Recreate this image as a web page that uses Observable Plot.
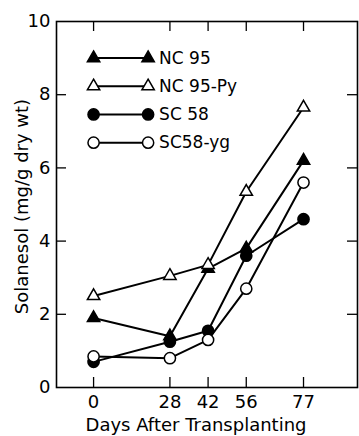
<!DOCTYPE html>
<html>
<head>
<meta charset="utf-8">
<script src="https://cdn.jsdelivr.net/npm/d3@7"></script>
<script src="https://cdn.jsdelivr.net/npm/@observablehq/plot@0.6"></script>
<style>
  html, body { margin: 0; padding: 0; background: #fff; }
</style>
</head>
<body>
<div id="chart"></div>
<script>
// ---- data ----
const days = [0, 28, 42, 56, 77];
const nc95 = [1.9, 1.4, 3.25, 3.8, 6.2];
const nc95py = [2.5, 3.05, 3.35, 5.35, 7.65];
const sc58 = [0.7, 1.25, 1.55, 3.6, 4.6];
const sc58yg = [0.85, 0.8, 1.3, 2.7, 5.6];
const seriesNames = ["NC 95", "NC 95-Py", "SC 58", "SC58-yg"];
const yTicks = [0, 2, 4, 6, 8, 10];
const xLabel = "Days After Transplanting";
const yLabel = "Solanesol (mg/g dry wt)";

// ---- build table ----
const seriesValues = [nc95, nc95py, sc58, sc58yg];
const symbols = ["triangle", "triangle", "circle", "circle"];
const filled = [true, false, true, false];
const rows = [];
seriesNames.forEach((name, i) => {
  days.forEach((d, j) => rows.push({series: name, day: d, value: seriesValues[i][j], i}));
});

const W = 359, H = 436;
const mL = 56, mR = 2, mT = 21, mB = 49;
const xDomain = [-13.6, 96.8];
const yDomain = [0, 10];
const pxPerDay = (W - mL - mR) / (xDomain[1] - xDomain[0]);
const pxPerUnit = (H - mT - mB) / (yDomain[1] - yDomain[0]);
const tickLen = 10;
const innerY = yTicks.filter(t => t > yDomain[0] && t < yDomain[1]);

// legend rows
const legend = seriesNames.map((name, i) => ({series: name, i, y: 9 - 0.77 * i}));
const legendPts = legend.flatMap(l => [{...l, x: 0}, {...l, x: 20}]);

const marks = [
  Plot.frame({strokeWidth: 1.6}),
  // inward ticks
  Plot.ruleX(days, {x: d => d, y1: yDomain[0], y2: yDomain[0] + tickLen / pxPerUnit, strokeWidth: 1.3}),
  Plot.ruleX(days, {x: d => d, y1: yDomain[1], y2: yDomain[1] - tickLen / pxPerUnit, strokeWidth: 1.3}),
  Plot.ruleY(innerY, {y: d => d, x1: xDomain[0], x2: xDomain[0] + tickLen / pxPerDay, strokeWidth: 1.3}),
  Plot.ruleY(innerY, {y: d => d, x1: xDomain[1], x2: xDomain[1] - tickLen / pxPerDay, strokeWidth: 1.3}),
  // series lines
  Plot.line(rows, {x: "day", y: "value", z: "series", stroke: "black", strokeWidth: 2}),
  // legend lines
  Plot.line(legendPts, {x: "x", y: "y", z: "series", stroke: "black", strokeWidth: 2}),
];

seriesNames.forEach((name, i) => {
  const r = symbols[i] === "triangle" ? 4.6 : 5.6;
  const opts = {
    symbol: symbols[i], r,
    fill: filled[i] ? "black" : "white",
    stroke: "black", strokeWidth: 1.5
  };
  marks.push(Plot.dot(rows.filter(d => d.series === name), {x: "day", y: "value", ...opts}));
  marks.push(Plot.dot(legendPts.filter(d => d.series === name), {x: "x", y: "y", ...opts}));
});

marks.push(
  Plot.text(legend, {x: 20, y: "y", text: "series", textAnchor: "start", dx: 11, fontSize: 17}),
  Plot.text([yLabel], {frameAnchor: "left", textAnchor: "middle", lineAnchor: "middle", rotate: -90, dx: -34, dy: 2, fontSize: 18}),
  Plot.text([xLabel], {frameAnchor: "bottom", textAnchor: "middle", lineAnchor: "middle", dx: -11, dy: 38, fontSize: 18, letterSpacing: 0.4})
);

const chart = Plot.plot({
  width: W, height: H,
  marginLeft: mL, marginRight: mR, marginTop: mT, marginBottom: mB,
  style: {fontFamily: "DejaVu Sans", fontSize: "18px", background: "white", color: "black"},
  x: {domain: xDomain, ticks: days, tickSize: 0, tickPadding: 8, label: null, tickFormat: d => String(d)},
  y: {domain: yDomain, ticks: yTicks, tickSize: 0, tickPadding: 6, label: null, tickFormat: d => String(d)},
  marks
});
document.getElementById("chart").appendChild(chart);
</script>
</body>
</html>
